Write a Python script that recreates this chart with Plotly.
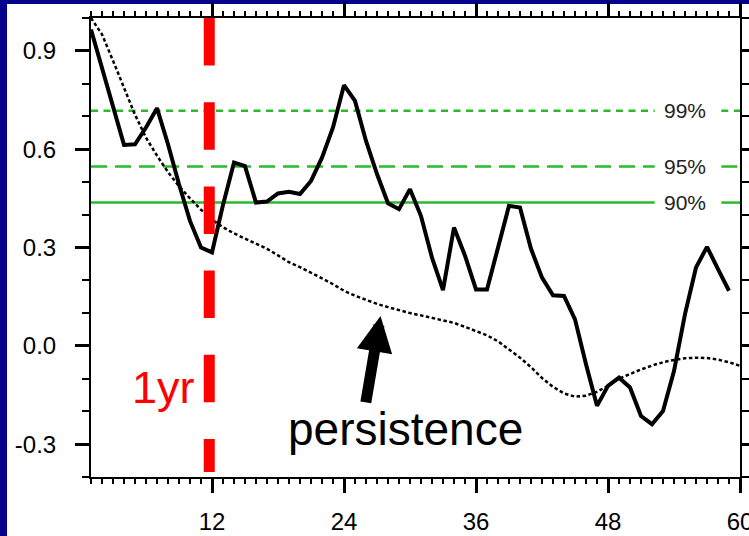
import plotly.graph_objects as go

# ---------------- data ----------------
lag_months = list(range(1, 60))
acf_values = [0.965, 0.85, 0.73, 0.613, 0.615, 0.666, 0.725, 0.615, 0.493, 0.381,
              0.30, 0.285, 0.43, 0.559, 0.548, 0.437, 0.44, 0.465, 0.47, 0.463,
              0.503, 0.574, 0.666, 0.795, 0.747, 0.625, 0.524, 0.435, 0.417, 0.478,
              0.396, 0.269, 0.17, 0.361, 0.275, 0.172, 0.172, 0.3, 0.427, 0.422,
              0.296, 0.208, 0.154, 0.152, 0.081, -0.056, -0.183, -0.122, -0.097, -0.127,
              -0.214, -0.239, -0.199, -0.077, 0.097, 0.239, 0.302, 0.234, 0.168]

persist_months = list(range(1, 61))
persist_values = [1.0, 0.95, 0.87, 0.79, 0.705, 0.635, 0.58, 0.53, 0.487, 0.45,
                  0.415, 0.385, 0.362, 0.343, 0.328, 0.313, 0.296, 0.276, 0.255, 0.24,
                  0.224, 0.206, 0.188, 0.168, 0.153, 0.14, 0.128, 0.118, 0.108, 0.1,
                  0.093, 0.086, 0.078, 0.07, 0.058, 0.045, 0.032, 0.014, -0.01, -0.036,
                  -0.065, -0.098, -0.125, -0.145, -0.155, -0.152, -0.14, -0.122, -0.1, -0.085,
                  -0.072, -0.06, -0.05, -0.043, -0.038, -0.036, -0.037, -0.042, -0.05, -0.061]

sig_labels = ["99%", "95%", "90%"]
sig_levels = [0.717, 0.547, 0.437]

x_tickvals = [12, 24, 36, 48, 60]
y_tickvals = [-0.3, 0.0, 0.3, 0.6, 0.9]
y_ticktext = ["-0.3", "0.0", "0.3", "0.6", "0.9"]

one_year_lag = 11.75

# ---------------- style ----------------
FONT = "Liberation Sans, Arial, Helvetica, sans-serif"
GREEN = "rgb(45,185,45)"
NAVY = "rgb(4,4,140)"
sig_dashes = ["7px,5.5px", "16px,8px", "solid"]
label_gap = (52.25, 58.3)
label_x = 55.0
X_RANGE = [1, 60]
Y_RANGE = [-0.4, 1.0]

fig = go.Figure()

# significance lines (with gap for inline label)
for lab, lev, dsh in zip(sig_labels, sig_levels, sig_dashes):
    fig.add_trace(go.Scatter(
        x=[X_RANGE[0], label_gap[0], None, label_gap[1], X_RANGE[1]],
        y=[lev, lev, None, lev, lev],
        mode="lines", line=dict(color=GREEN, width=2.5, dash=dsh),
        hoverinfo="skip", showlegend=False))
    fig.add_annotation(x=label_x, y=lev, text=lab, showarrow=False,
                       font=dict(family=FONT, size=21, color="#222222"),
                       xanchor="center", yanchor="middle")

# persistence (dotted)
fig.add_trace(go.Scatter(x=persist_months, y=persist_values, mode="lines",
                         line=dict(color="black", width=2.5, dash="3.5px,2.5px"),
                         showlegend=False))
# autocorrelation (solid)
fig.add_trace(go.Scatter(x=lag_months, y=acf_values, mode="lines",
                         line=dict(color="black", width=4),
                         showlegend=False))

# white panel behind the chart on the navy slide
fig.add_shape(type="rect", xref="paper", yref="paper",
              x0=-0.1294, x1=1.05, y0=-0.2, y1=1.0305,
              fillcolor="white", line=dict(width=0), layer="below")

# red dashed 1-year line
fig.add_shape(type="line", xref="x", yref="y",
              x0=one_year_lag, x1=one_year_lag, y0=Y_RANGE[1], y1=-0.385,
              line=dict(color="#ff0000", width=11, dash="47.5px,36.7px"),
              layer="above")

fig.add_annotation(x=10.6, y=-0.128, text="1yr", showarrow=False,
                   font=dict(family=FONT, size=45, color="#ff0000"),
                   xanchor="right", yanchor="middle")

fig.add_annotation(x=29.6, y=-0.255, text="persistence", showarrow=False,
                   font=dict(family=FONT, size=46, color="black"),
                   xanchor="center", yanchor="middle")

# arrow pointing at persistence curve
fig.add_annotation(x=27.32, y=0.091, ax=25.96, ay=-0.177,
                   axref="x", ayref="y", xref="x", yref="y",
                   text="", showarrow=True, arrowhead=2, arrowsize=0.65,
                   arrowwidth=11, arrowcolor="black", standoff=0)

axis_common = dict(showline=True, linecolor="black", linewidth=2, mirror="ticks",
                   ticks="outside", tickcolor="black", tickwidth=2.5,
                   showgrid=False, zeroline=False, automargin=False,
                   ticklabeloverflow="allow",
                   tickfont=dict(family=FONT, size=24, color="black"))

fig.update_xaxes(range=X_RANGE, tickvals=x_tickvals, ticklen=14,
                 minor=dict(dtick=1, tick0=0, ticklen=5, tickwidth=1.5,
                            ticks="outside", tickcolor="black", showgrid=False),
                 ticklabelstandoff=8, **axis_common)
fig.update_yaxes(range=Y_RANGE, tickvals=y_tickvals, ticktext=y_ticktext, ticklen=14,
                 minor=dict(dtick=0.1, tick0=0, ticklen=7, tickwidth=1.5,
                            ticks="outside", tickcolor="black", showgrid=False),
                 ticklabelstandoff=14, **axis_common)

fig.update_layout(width=749, height=536,
                  margin=dict(l=91, r=9, t=18, b=59, pad=0, autoexpand=False),
                  paper_bgcolor=NAVY, plot_bgcolor="white",
                  showlegend=False)

fig.write_html("out.html",
               config={"displayModeBar": False},
               post_script="document.body.style.margin='0';"
                           "document.body.style.overflow='hidden';")
